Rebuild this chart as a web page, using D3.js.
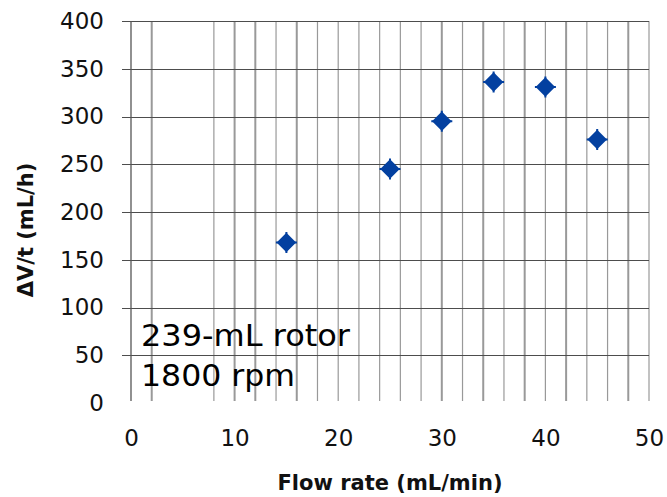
<!DOCTYPE html>
<html>
<head>
<meta charset="utf-8">
<script src="https://cdn.jsdelivr.net/npm/d3@7"></script>
<style>
  body { margin: 0; background: #fff; }
  svg { display: block; }
</style>
</head>
<body>
<svg id="chart"></svg>
<script>
// data
var flowRate = [15, 25, 30, 35, 40, 45]
var rateValues = [168, 245, 295, 336, 331, 276]
var xTicks = [0, 10, 20, 30, 40, 50]
var yTicks = [0, 50, 100, 150, 200, 250, 300, 350, 400]
var xGrid = [2, 8, 10, 12, 14, 16, 18, 20, 22, 24, 26, 28, 30, 32, 34, 36, 38, 40, 42, 44, 46, 48, 50]
var noteLines = ["239-mL rotor", "1800 rpm"]

var width = 667, height = 497
var margin = {top: 21, right: 18, bottom: 94, left: 131}

var svg = d3.select("#chart")
  .attr("width", width)
  .attr("height", height)

var x = d3.scaleLinear().domain([0, 50]).range([margin.left, width - margin.right])
var y = d3.scaleLinear().domain([0, 400]).range([height - margin.bottom, margin.top])

// thicker looking vertical lines (resampling in the original)
var heavy = [2, 10, 12, 16, 30, 34, 38, 42, 48]

// vertical grid
svg.append("g")
  .attr("class", "x-grid")
  .selectAll("line")
  .data(xGrid)
  .join("line")
  .attr("x1", d => x(d))
  .attr("x2", d => x(d))
  .attr("y1", y(400))
  .attr("y2", y(0) - 2)
  .attr("stroke", "#999")
  .attr("stroke-width", d => heavy.indexOf(d) >= 0 ? 2 : 1.2)

// horizontal grid, runs a bit left of the axis like tick marks
svg.append("g")
  .attr("class", "y-grid")
  .selectAll("line")
  .data(yTicks.filter(d => d > 0))
  .join("line")
  .attr("x1", x(0) - 9)
  .attr("x2", x(50))
  .attr("y1", d => Math.round(y(d)) + 0.5)
  .attr("y2", d => Math.round(y(d)) + 0.5)
  .attr("stroke", "#4d4d4d")
  .attr("stroke-width", 1.2)

// left axis line
svg.append("line")
  .attr("x1", x(0)).attr("x2", x(0))
  .attr("y1", y(400)).attr("y2", y(0) - 2)
  .attr("stroke", "#555")
  .attr("stroke-width", 1.3)

// y tick labels
var yAxis = d3.axisLeft(y).tickValues(yTicks).tickSize(0).tickPadding(27)
svg.append("g")
  .attr("class", "y-axis")
  .attr("transform", "translate(" + x(0) + ",0)")
  .call(yAxis)
  .call(g => g.select(".domain").remove())
  .selectAll("text")
  .attr("font-family", "DejaVu Sans")
  .attr("font-size", 23)
  .attr("fill", "#111")

// x tick labels
var xAxis = d3.axisBottom(x).tickValues(xTicks).tickSize(0).tickPadding(27)
svg.append("g")
  .attr("class", "x-axis")
  .attr("transform", "translate(0," + y(0) + ")")
  .call(xAxis)
  .call(g => g.select(".domain").remove())
  .selectAll("text")
  .attr("font-family", "DejaVu Sans")
  .attr("font-size", 23)
  .attr("fill", "#111")

// axis titles
svg.append("text")
  .attr("x", (x(0) + x(50)) / 2)
  .attr("y", 490)
  .attr("text-anchor", "middle")
  .attr("font-family", "DejaVu Sans")
  .attr("font-weight", "bold")
  .attr("font-size", 21)
  .attr("fill", "#111")
  .text("Flow rate (mL/min)")

svg.append("text")
  .attr("transform", "translate(33,230) rotate(-90)")
  .attr("text-anchor", "middle")
  .attr("font-family", "DejaVu Sans")
  .attr("font-weight", "bold")
  .attr("font-size", 21)
  .attr("fill", "#111")
  .text("\u0394V/t (mL/h)")

// annotation
var noteWidths = [209, 154]
svg.append("text")
  .attr("font-family", "DejaVu Sans")
  .attr("font-size", 30)
  .attr("fill", "#000")
  .selectAll("tspan")
  .data(noteLines)
  .join("tspan")
  .attr("x", 141)
  .attr("y", (d, i) => 346 + i * 40)
  .attr("textLength", (d, i) => noteWidths[i])
  .attr("lengthAdjust", "spacingAndGlyphs")
  .text(d => d)

// points: diamonds with tiny error bar nubs
var pts = flowRate.map((d, i) => ({x: d, y: rateValues[i]}))
var marker = d3.symbol().type(d3.symbolSquare).size(190)
var blue = "#0340a0"

var pg = svg.append("g").attr("class", "points")
  .selectAll("g")
  .data(pts)
  .join("g")
  .attr("transform", d => "translate(" + x(d.x) + "," + y(d.y) + ")")

pg.append("path")
  .attr("d", "M-10.5,0H10.5M0,-10.5V10.5")
  .attr("stroke", blue)
  .attr("stroke-width", 2)

pg.append("path")
  .attr("d", marker)
  .attr("transform", "rotate(45)")
  .attr("fill", blue)
</script>
</body>
</html>
